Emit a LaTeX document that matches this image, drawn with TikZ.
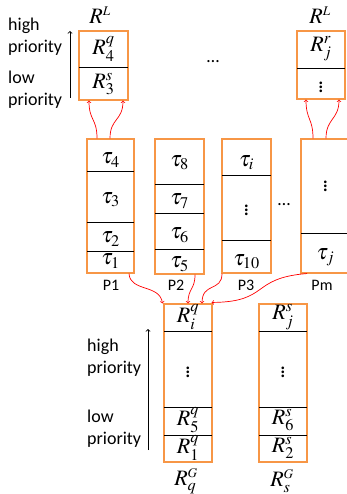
\documentclass[tikz,border=0pt]{standalone}
\usepackage{mathptmx}
\usepackage[no-math]{fontspec}
\setmainfont{Carlito}
\usepackage{xcolor}
\usepackage{amsmath}
\usepackage{tikz}

\definecolor{boxorange}{RGB}{247,150,70}

\begin{document}
\begin{tikzpicture}[x=1pt,y=-1pt,
    box/.style={draw=boxorange, line width=1.1pt, inner sep=0pt},
    cell/.style={draw=none, inner sep=1pt, font=\fontsize{22}{24}\selectfont},
    lbl/.style={draw=none, inner sep=1pt, font=\fontsize{18}{22}\selectfont, align=left, anchor=west},
    plbl/.style={draw=none, inner sep=1pt, font=\fontsize{16}{18}\selectfont},
    sep/.style={black, line width=0.8pt},
    feed/.style={red, line width=0.7pt, ->}]
             \useasboundingbox (0,0) rectangle (347,494);

             % local queues on top
             \node[box, minimum width=49, minimum height=69] (rl1) at (103.5,65.5) {};
             \draw[sep] (79,67) -- (128,67);
             \node[cell] (rq4) at (103.5,49) {$R^{q}_{4}$};
             \node[cell] (rs3) at (103.5,84) {$R^{s}_{3}$};
             \node[cell] (rl1t) at (100,15) {$R^{\scriptscriptstyle L}$};
             \node[lbl] (hi1) at (7,37) {high\\priority};
             \node[lbl] (lo1) at (7,90) {low\\priority};
             \coordinate (ar1s) at (70,98);
             \coordinate (ar1e) at (70,31);
             \draw[->, line width=0.8pt] (ar1s) -- (ar1e);

             \node[draw=none, font=\fontsize{18}{20}\selectfont] (dots1) at (213,62) {\dots};

             \node[box, minimum width=48, minimum height=68] (rl2) at (321,65) {};
             \draw[sep] (297,68) -- (345,68);
             \node[cell] (rrj) at (321,49) {$R^{r}_{j}$};
             \node[cell] (rvd) at (321,84) {$\vdots$};
             \node[cell] (rl2t) at (320,15) {$R^{\scriptscriptstyle L}$};

             % processors
             \node[box, minimum width=47, minimum height=134] (p1) at (110.5,206) {};
             \draw[sep] (87,171) -- (134,171);
             \draw[sep] (87,222) -- (134,222);
             \draw[sep] (87,251) -- (134,251);
             \node[cell] (t4) at (110.5,160) {$\tau_{4}$};
             \node[cell] (t3) at (110.5,200) {$\tau_{3}$};
             \node[cell] (t2) at (110.5,239) {$\tau_{2}$};
             \node[cell] (t1) at (110.5,261) {$\tau_{1}$};

             \node[box, minimum width=49, minimum height=135] (p2) at (179.5,206.5) {};
             \draw[sep] (155,184) -- (204,184);
             \draw[sep] (155,213) -- (204,213);
             \draw[sep] (155,249) -- (204,249);
             \node[cell] (t8) at (179.5,163) {$\tau_{8}$};
             \node[cell] (t7) at (179.5,201) {$\tau_{7}$};
             \node[cell] (t6) at (179.5,235) {$\tau_{6}$};
             \node[cell] (t5) at (179.5,264) {$\tau_{5}$};

             \node[box, minimum width=49, minimum height=134] (p3) at (246.5,206) {};
             \draw[sep] (222,175) -- (271,175);
             \draw[sep] (222,240) -- (271,240);
             \node[cell] (ti) at (246.5,163) {$\tau_{i}$};
             \node[cell] (tvd) at (246.5,207) {$\vdots$};
             \node[cell] (t10) at (246.5,262) {$\tau_{10}$};

             \node[draw=none, font=\fontsize{18}{20}\selectfont] (dots2) at (284,205) {\dots};

             \node[box, minimum width=49, minimum height=134] (pm) at (325.5,206) {};
             \draw[sep] (301,233) -- (350,233);
             \node[cell] (tmvd) at (325.5,183) {$\vdots$};
             \node[cell] (tj) at (325.5,257) {$\tau_{j}$};

             \node[plbl] (p1l) at (111,285) {P1};
             \node[plbl] (p2l) at (176,285) {P2};
             \node[plbl] (p3l) at (246,285) {P3};
             \node[plbl] (pml) at (322,285) {Pm};

             % global queues
             \node[box, minimum width=48, minimum height=158] (gq) at (188,383) {};
             \draw[sep] (164,331) -- (212,331);
             \draw[sep] (164,407) -- (212,407);
             \draw[sep] (164,435) -- (212,435);
             \node[cell] (rqi) at (188,317) {$R^{q}_{i}$};
             \node[cell] (rqvd) at (188,369) {$\vdots$};
             \node[cell] (rq5) at (188,420) {$R^{q}_{5}$};
             \node[cell] (rq1) at (188,448) {$R^{q}_{1}$};
             \node[cell] (gqt) at (186,481) {$R^{\scriptscriptstyle G}_{q}$};

             \node[box, minimum width=48, minimum height=158] (gs) at (283,383) {};
             \draw[sep] (259,331) -- (307,331);
             \draw[sep] (259,407) -- (307,407);
             \draw[sep] (259,435) -- (307,435);
             \node[cell] (rsj) at (283,317) {$R^{s}_{j}$};
             \node[cell] (rsvd) at (283,369) {$\vdots$};
             \node[cell] (rs6) at (283,420) {$R^{s}_{6}$};
             \node[cell] (rs2) at (283,448) {$R^{s}_{2}$};
             \node[cell] (gst) at (282,481) {$R^{\scriptscriptstyle G}_{s}$};

             \node[lbl] (hi2) at (86,358) {high\\priority};
             \node[lbl] (lo2) at (86,429) {low\\priority};
             \coordinate (ar2s) at (148,450);
             \coordinate (ar2e) at (148,329);
             \draw[->, line width=0.8pt] (ar2s) -- (ar2e);

             % red feeds
             \draw[feed] ([xshift=-13.5pt]p1.north) .. controls (97,118) and (89,121) .. ([xshift=-14.5pt]rl1.south);
             \draw[feed] ([xshift=-0.5pt]p1.north) .. controls (110,118) and (123,121) .. ([xshift=19.5pt]rl1.south);
             \draw[feed] ([xshift=-12.5pt]pm.north) .. controls (313,118) and (306,120) .. ([xshift=-15pt]rl2.south);
             \draw[feed] ([xshift=0.5pt]pm.north) .. controls (326,118) and (339,120) .. ([xshift=18pt]rl2.south);

             \draw[feed] ([xshift=18.5pt]p1.south) .. controls (130,292) and (160,284) .. ([xshift=-1pt]gq.north west);
             \draw[feed] ([xshift=15.5pt]p2.south) .. controls (195,290) and (188,288) .. ([xshift=0pt]gq.north);
             \draw[feed] ([xshift=-24.5pt]p3.south) .. controls (222,292) and (202,282) .. ([xshift=14pt]gq.north);
             \draw[feed] ([xshift=-18.5pt]pm.south) .. controls (250,278) and (270,302) .. ([xshift=-1pt,yshift=1pt]gq.north east);
\end{tikzpicture}
\end{document}
